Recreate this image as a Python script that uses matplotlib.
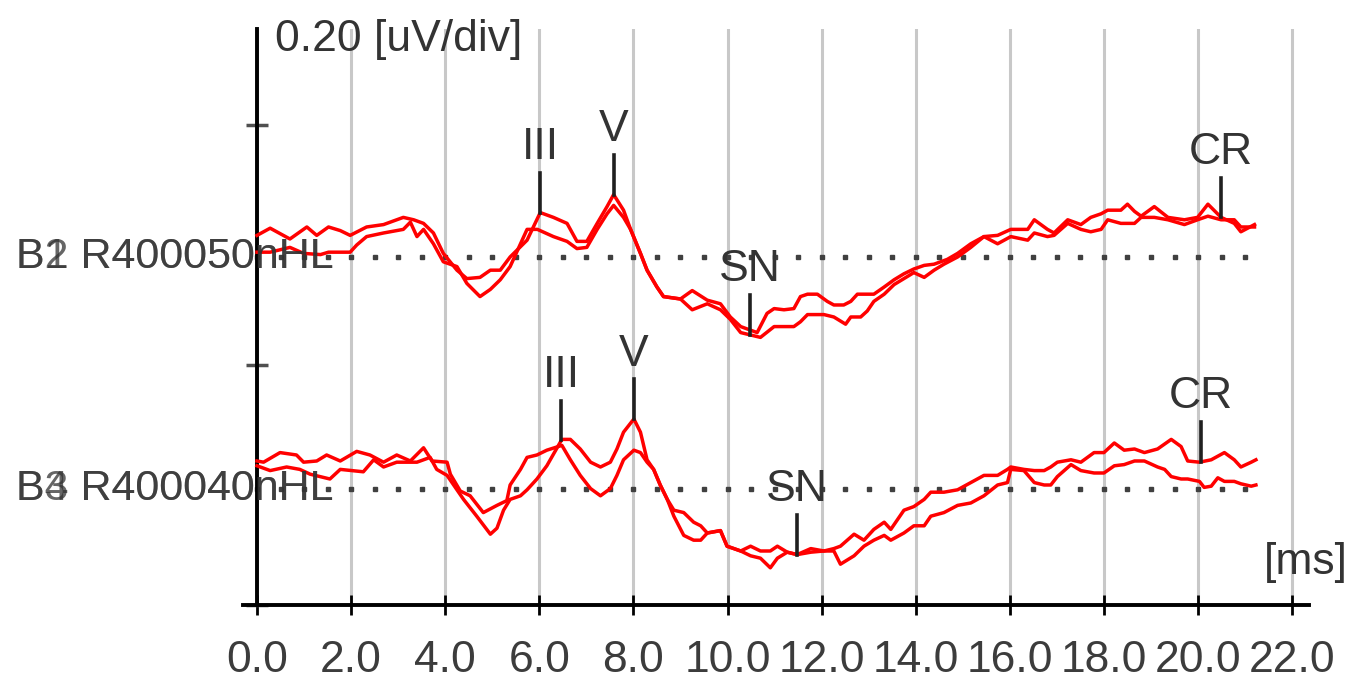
import numpy as np
import matplotlib
matplotlib.use("Agg")
import matplotlib.pyplot as plt

plt.rcParams["font.family"] = ["Liberation Sans", "DejaVu Sans"]

# ABR sweeps: latency in ms, amplitude in uV relative to the channel baseline
t_top1 = [0.00, 0.28, 0.70, 1.06, 1.27, 1.52, 1.77, 1.98, 2.33, 2.69, 3.11, 3.33, 3.54, 3.75, 3.96,
          4.25, 4.46, 4.74, 4.96, 5.17, 5.38, 5.74, 6.02, 6.30, 6.59, 6.80, 7.01, 7.23, 7.44, 7.58,
          7.79, 7.94, 8.15, 8.29, 8.50, 8.64, 9.00, 9.25, 9.57, 9.85, 10.06, 10.28, 10.49, 10.63,
          10.84, 10.99, 11.20, 11.41, 11.55, 11.70, 11.91, 12.12, 12.26, 12.47, 12.62, 12.76, 13.11,
          13.33, 13.54, 13.75, 13.96, 14.18, 14.39, 14.67, 14.89, 15.17, 15.45, 15.74, 16.02, 16.38,
          16.52, 16.80, 16.94, 17.23, 17.51, 17.72, 17.94, 18.08, 18.36, 18.50, 18.65, 18.79, 19.07,
          19.36, 19.71, 19.99, 20.21, 20.49, 20.77, 20.91, 21.20]
amp_top1 = [0.018, 0.024, 0.015, 0.025, 0.018, 0.025, 0.022, 0.018, 0.025, 0.027, 0.033, 0.031, 0.028,
            0.020, 0.003, -0.011, -0.018, -0.017, -0.011, -0.011, 0.000, 0.014, 0.037, 0.033, 0.028,
            0.013, 0.013, 0.028, 0.042, 0.052, 0.039, 0.023, 0.003, -0.011, -0.025, -0.033, -0.035,
            -0.028, -0.036, -0.039, -0.050, -0.058, -0.061, -0.063, -0.047, -0.043, -0.044, -0.043,
            -0.033, -0.031, -0.031, -0.037, -0.040, -0.040, -0.037, -0.031, -0.031, -0.025, -0.019,
            -0.014, -0.010, -0.007, -0.006, -0.002, 0.003, 0.011, 0.017, 0.018, 0.023, 0.023, 0.031,
            0.023, 0.020, 0.031, 0.027, 0.033, 0.036, 0.039, 0.039, 0.044, 0.038, 0.034, 0.042, 0.033,
            0.031, 0.033, 0.044, 0.033, 0.028, 0.021, 0.027]

t_top2 = [0.00, 0.28, 0.70, 0.99, 1.35, 1.52, 1.98, 2.12, 2.33, 2.69, 3.11, 3.26, 3.40, 3.54, 3.75,
          3.96, 4.25, 4.46, 4.74, 4.96, 5.17, 5.38, 5.74, 5.96, 6.30, 6.59, 6.80, 7.01, 7.23, 7.44,
          7.58, 7.79, 7.94, 8.15, 8.29, 8.50, 8.64, 9.00, 9.25, 9.57, 9.85, 10.06, 10.28, 10.49,
          10.70, 10.99, 11.41, 11.55, 11.70, 12.05, 12.26, 12.51, 12.62, 12.83, 12.97, 13.11, 13.33,
          13.54, 13.75, 13.96, 14.18, 14.39, 14.60, 14.89, 15.17, 15.45, 15.74, 16.02, 16.38, 16.52,
          16.80, 16.94, 17.23, 17.51, 17.72, 17.94, 18.08, 18.36, 18.65, 18.79, 19.07, 19.36, 19.71,
          19.99, 20.21, 20.49, 20.77, 20.91, 21.20]
amp_top2 = [0.004, 0.004, 0.008, 0.003, 0.002, 0.004, 0.004, 0.010, 0.017, 0.020, 0.023, 0.029, 0.017,
            0.023, 0.011, -0.004, -0.008, -0.022, -0.033, -0.027, -0.019, -0.008, 0.023, 0.023, 0.017,
            0.013, 0.007, 0.008, 0.023, 0.036, 0.043, 0.033, 0.023, 0.003, -0.011, -0.025, -0.033,
            -0.035, -0.044, -0.039, -0.044, -0.052, -0.063, -0.065, -0.067, -0.058, -0.058, -0.054,
            -0.048, -0.048, -0.050, -0.056, -0.050, -0.050, -0.045, -0.037, -0.031, -0.023, -0.018,
            -0.013, -0.017, -0.011, -0.006, 0.000, 0.008, 0.017, 0.011, 0.017, 0.014, 0.020, 0.017,
            0.018, 0.028, 0.023, 0.021, 0.023, 0.031, 0.028, 0.028, 0.033, 0.033, 0.031, 0.027, 0.031,
            0.034, 0.031, 0.031, 0.025, 0.025]

t_bot1 = [0.00, 0.14, 0.49, 0.84, 0.99, 1.27, 1.48, 1.77, 2.12, 2.40, 2.69, 2.97, 3.26, 3.54, 3.72,
          4.04, 4.11, 4.32, 4.53, 4.81, 5.10, 5.31, 5.38, 5.60, 5.74, 5.95, 6.16, 6.48, 6.66, 6.87,
          7.09, 7.30, 7.51, 7.65, 7.79, 8.01, 8.15, 8.29, 8.43, 8.57, 8.72, 8.86, 9.07, 9.28, 9.43,
          9.57, 9.85, 9.99, 10.28, 10.49, 10.70, 10.91, 11.06, 11.27, 11.48, 11.77, 12.05, 12.26,
          12.40, 12.69, 12.90, 13.11, 13.33, 13.47, 13.75, 13.96, 14.18, 14.32, 14.60, 14.89, 15.17,
          15.45, 15.74, 15.95, 16.02, 16.30, 16.52, 16.73, 16.87, 17.01, 17.30, 17.51, 17.79, 18.00,
          18.22, 18.43, 18.65, 18.86, 19.14, 19.43, 19.64, 19.78, 20.03, 20.28, 20.56, 20.77, 20.91,
          21.13, 21.23]
amp_bot1 = [0.023, 0.022, 0.030, 0.028, 0.022, 0.023, 0.028, 0.023, 0.031, 0.028, 0.022, 0.028, 0.023,
            0.034, 0.023, 0.022, 0.012, -0.002, -0.006, -0.020, -0.014, -0.010, 0.003, 0.016, 0.026,
            0.028, 0.032, 0.036, 0.024, 0.011, 0.000, -0.006, 0.000, 0.011, 0.024, 0.032, 0.030, 0.022,
            0.016, 0.003, -0.009, -0.018, -0.020, -0.028, -0.031, -0.037, -0.035, -0.048, -0.052,
            -0.048, -0.052, -0.052, -0.048, -0.053, -0.055, -0.050, -0.052, -0.050, -0.048, -0.038,
            -0.043, -0.034, -0.028, -0.034, -0.018, -0.015, -0.009, -0.003, -0.003, -0.001, 0.005,
            0.011, 0.011, 0.016, 0.018, 0.016, 0.015, 0.015, 0.018, 0.022, 0.024, 0.022, 0.030, 0.030,
            0.038, 0.032, 0.033, 0.030, 0.033, 0.041, 0.035, 0.023, 0.022, 0.024, 0.030, 0.024, 0.018,
            0.022, 0.024]

t_bot2 = [0.00, 0.28, 0.63, 0.91, 1.13, 1.55, 1.77, 2.26, 2.48, 2.69, 2.97, 3.40, 3.68, 3.82, 4.04,
          4.18, 4.39, 4.67, 4.96, 5.10, 5.24, 5.38, 5.60, 5.74, 5.95, 6.16, 6.48, 6.66, 6.87, 7.09,
          7.30, 7.51, 7.65, 7.79, 8.01, 8.15, 8.29, 8.43, 8.57, 8.72, 8.86, 9.07, 9.28, 9.43, 9.57,
          9.85, 9.99, 10.28, 10.49, 10.70, 10.91, 11.06, 11.27, 11.48, 11.77, 12.05, 12.26, 12.40,
          12.69, 12.90, 13.11, 13.33, 13.47, 13.75, 13.96, 14.18, 14.32, 14.60, 14.89, 15.17, 15.45,
          15.74, 15.95, 16.02, 16.30, 16.52, 16.73, 16.87, 17.01, 17.30, 17.51, 17.79, 18.00, 18.22,
          18.43, 18.65, 18.86, 19.14, 19.29, 19.43, 19.64, 19.78, 20.03, 20.13, 20.28, 20.42, 20.56,
          20.77, 20.91, 21.13, 21.23]
amp_bot2 = [0.019, 0.015, 0.018, 0.016, 0.012, 0.008, 0.016, 0.014, 0.024, 0.018, 0.022, 0.022, 0.026,
            0.016, 0.011, 0.003, -0.009, -0.023, -0.038, -0.033, -0.018, -0.009, -0.006, -0.001,
            0.008, 0.019, 0.041, 0.041, 0.033, 0.022, 0.018, 0.022, 0.033, 0.047, 0.058, 0.047, 0.024,
            0.016, 0.003, -0.009, -0.023, -0.039, -0.043, -0.043, -0.037, -0.035, -0.048, -0.052,
            -0.056, -0.058, -0.066, -0.058, -0.053, -0.055, -0.053, -0.052, -0.052, -0.063, -0.056,
            -0.048, -0.043, -0.039, -0.043, -0.037, -0.031, -0.031, -0.023, -0.020, -0.014, -0.012,
            -0.006, 0.003, 0.005, 0.016, 0.015, 0.005, 0.003, 0.003, 0.010, 0.020, 0.015, 0.013, 0.013,
            0.019, 0.020, 0.023, 0.023, 0.018, 0.016, 0.010, 0.008, 0.008, 0.006, 0.001, 0.002, 0.009,
            0.006, 0.006, 0.004, 0.002, 0.003]

# channel baselines (uV above the time axis) and their labels
baseline_top = 0.290
baseline_bot = 0.097
labels_top = ["B1 R400050nHL", "B2 R400050nHL"]
labels_bot = ["B3 R400040nHL", "B4 R400040nHL"]

# wave markers: name, latency (ms)
peak_names = ["III", "V", "SN", "CR"]
peak_lat_top = [6.02, 7.58, 10.47, 20.49]
peak_lat_bot = [6.47, 8.01, 11.48, 20.06]

x_ticks = [0.0, 2.0, 4.0, 6.0, 8.0, 10.0, 12.0, 14.0, 16.0, 18.0, 20.0, 22.0]
uv_per_div = 0.20

TRACE_RED = "#ff0000"
TEXT_GRAY = "#333333"
FS = 32

fig = plt.figure(figsize=(13.53, 6.85), dpi=100)
ax = fig.add_axes([0.1795, 0.1168, 0.7877, 0.8409])
ax.set_xlim(-0.3, 22.35)
ax.set_ylim(0, 0.48)

for side in ("top", "right"):
    ax.spines[side].set_visible(False)
ax.spines["left"].set_position(("data", 0))
ax.spines["left"].set_linewidth(2.8)
ax.spines["bottom"].set_linewidth(2.8)

ax.set_xticks(x_ticks)
ax.set_xticklabels([f"{v:.1f}" for v in x_ticks])
ax.tick_params(axis="x", direction="inout", length=15, width=2, pad=18,
               labelsize=FS, labelcolor="#3c3c3c")
ax.set_yticks([0, uv_per_div, 2 * uv_per_div])
ax.set_yticklabels([])
ax.tick_params(axis="y", direction="inout", length=16, width=2.5, color="#505050")
ax.grid(axis="x", color="#c8c8c8", linewidth=2.2)
ax.set_axisbelow(True)

dot_t = np.arange(0, 21.01, 0.5)
sweeps = [
    (baseline_top, [(t_top1, amp_top1), (t_top2, amp_top2)], labels_top, peak_lat_top),
    (baseline_bot, [(t_bot1, amp_bot1), (t_bot2, amp_bot2)], labels_bot, peak_lat_bot),
]

for base, traces, labels, lats in sweeps:
    ax.plot(dot_t, np.full(dot_t.shape, base), ls="none", marker="s", ms=2.2,
            color="#404040", zorder=2)
    for t, amp in traces:
        ax.plot(t, base + np.asarray(amp), color=TRACE_RED, lw=2.5, zorder=3)
    for lab in labels:
        ax.text(1.62, base, lab, ha="right", va="center", fontsize=31,
                color=TEXT_GRAY, alpha=0.75, clip_on=False, zorder=4)
    for name, lat in zip(peak_names, lats):
        vals = [np.interp(lat, t, amp) for t, amp in traces]
        y0 = base + (min(vals) if name == "SN" else max(vals))
        ax.plot([lat, lat], [y0, y0 + 0.033], color="#202020", lw=2.6, zorder=4)
        ax.text(lat, y0 + 0.037, name, ha="center", va="bottom", fontsize=FS,
                color=TEXT_GRAY, zorder=4)

fig.text(275 / 1353, 1 - 40 / 685, "0.20 [uV/div]", ha="left", va="center",
         fontsize=FS, color=TEXT_GRAY)
ax.text(22.3, 0.035, "[ms]", ha="center", va="center", fontsize=FS, color=TEXT_GRAY)

fig.savefig("out.png", dpi=100)
